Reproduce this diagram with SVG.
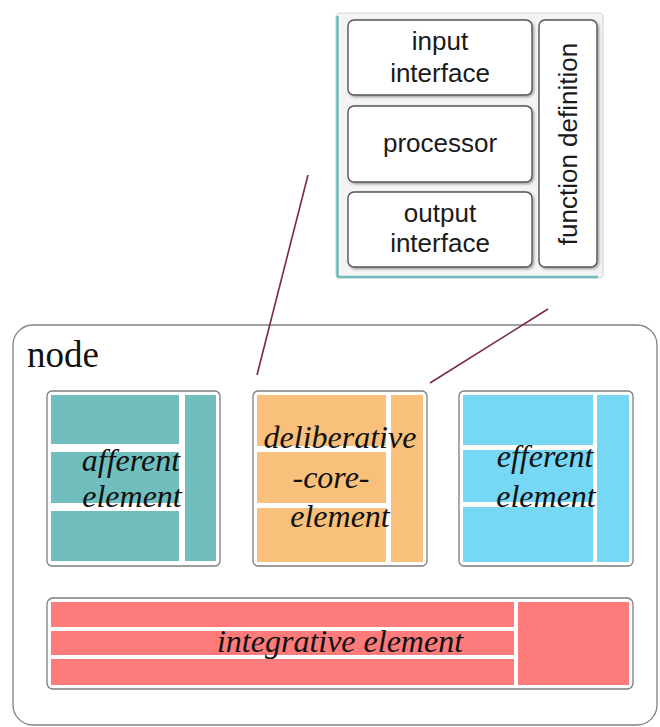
<svg xmlns="http://www.w3.org/2000/svg" width="660" height="727" viewBox="0 0 660 727">
  <defs>
    <filter id="shadow" x="-10%" y="-10%" width="130%" height="130%">
      <feDropShadow dx="1.5" dy="1.5" stdDeviation="1" flood-color="#000" flood-opacity="0.35"/>
    </filter>
  </defs>
  <style>
    .frame { fill: #ffffff; stroke: #7d7d7d; stroke-width: 1.3; }
    .part { fill: #ffffff; stroke: #555555; stroke-width: 1.4; }
    .sans { font-family: "Liberation Sans", Arial, sans-serif; font-size: 26px; fill: #1a1a1a; text-anchor: middle; }
    .ital { font-family: "Liberation Serif", "Times New Roman", serif; font-style: italic; font-size: 32px; fill: #111111; text-anchor: middle; }
    .link { stroke: #7a2846; stroke-width: 1.6; fill: none; }
    .aff { fill: #70bfbe; }
    .del { fill: #f8c07a; }
    .eff { fill: #76d8f5; }
    .int { fill: #fd7b7b; }
  </style>

  <rect width="660" height="727" fill="#ffffff"/>

  <!-- element detail panel -->
  <g id="detail-panel">
    <rect x="336" y="13" width="267" height="265" rx="4" fill="#f3f4f4" stroke="#d4d4d4" stroke-width="1.2"/>
    <line x1="337.5" y1="16" x2="337.5" y2="277" stroke="#6fbcbc" stroke-width="2.5"/>
    <line x1="337" y1="277" x2="598" y2="277" stroke="#6fbcbc" stroke-width="2.5"/>
  </g>
  <g id="input-interface">
    <rect class="part" x="348" y="20" width="184" height="75" rx="6" filter="url(#shadow)"/>
    <text class="sans" x="440" y="50">input</text>
    <text class="sans" x="440" y="82">interface</text>
  </g>
  <g id="processor">
    <rect class="part" x="348" y="106" width="184" height="76" rx="6" filter="url(#shadow)"/>
    <text class="sans" x="440" y="152">processor</text>
  </g>
  <g id="output-interface">
    <rect class="part" x="348" y="192" width="184" height="75" rx="6" filter="url(#shadow)"/>
    <text class="sans" x="440" y="222">output</text>
    <text class="sans" x="440" y="252">interface</text>
  </g>
  <g id="function-definition">
    <rect class="part" x="539" y="20" width="58" height="247" rx="6" filter="url(#shadow)"/>
    <text class="sans" transform="translate(577 144) rotate(-90)">function definition</text>
  </g>

  <!-- node container -->
  <g id="node">
    <rect x="13" y="325" width="644" height="400" rx="20" fill="#ffffff" stroke="#808080" stroke-width="1.3"/>
    <text x="27" y="367" font-family="'Liberation Serif', 'Times New Roman', serif" font-size="37" fill="#111111">node</text>
  </g>

  <!-- connectors from the core element to the detail panel -->
  <g id="connectors">
    <line class="link" x1="308" y1="175" x2="257" y2="375"/>
    <line class="link" x1="548" y1="309" x2="430" y2="383"/>
  </g>

  <g id="afferent-element">
    <rect class="frame" x="47" y="391" width="173" height="175" rx="5"/>
    <rect class="aff" x="51" y="395" width="128" height="49"/>
    <rect class="aff" x="51" y="452" width="128" height="51"/>
    <rect class="aff" x="51" y="511" width="128" height="50"/>
    <rect class="aff" x="185" y="395" width="31" height="166"/>
    <text class="ital" x="131" y="471">afferent</text>
    <text class="ital" x="132" y="507">element</text>
  </g>

  <g id="deliberative-core-element">
    <rect class="frame" x="253" y="391" width="174" height="175" rx="5"/>
    <rect class="del" x="257" y="395" width="129" height="51"/>
    <rect class="del" x="257" y="452" width="129" height="51"/>
    <rect class="del" x="257" y="508" width="129" height="54"/>
    <rect class="del" x="391" y="395" width="32" height="167"/>
    <text class="ital" x="340" y="448">deliberative</text>
    <text class="ital" x="331" y="488">-core-</text>
    <text class="ital" x="340" y="527">element</text>
  </g>

  <g id="efferent-element">
    <rect class="frame" x="459" y="391" width="174" height="175" rx="5"/>
    <rect class="eff" x="463" y="395" width="130" height="50"/>
    <rect class="eff" x="463" y="450" width="130" height="52"/>
    <rect class="eff" x="463" y="507" width="130" height="55"/>
    <rect class="eff" x="597" y="395" width="32" height="167"/>
    <text class="ital" x="545" y="467">efferent</text>
    <text class="ital" x="546" y="507">element</text>
  </g>

  <g id="integrative-element">
    <rect class="frame" x="47" y="598" width="586" height="91" rx="6"/>
    <rect class="int" x="51" y="602" width="463" height="25"/>
    <rect class="int" x="51" y="631" width="463" height="24"/>
    <rect class="int" x="51" y="659" width="463" height="26"/>
    <rect class="int" x="518" y="602" width="111" height="83"/>
    <text class="ital" x="340" y="652" font-size="34">integrative element</text>
  </g>
</svg>
